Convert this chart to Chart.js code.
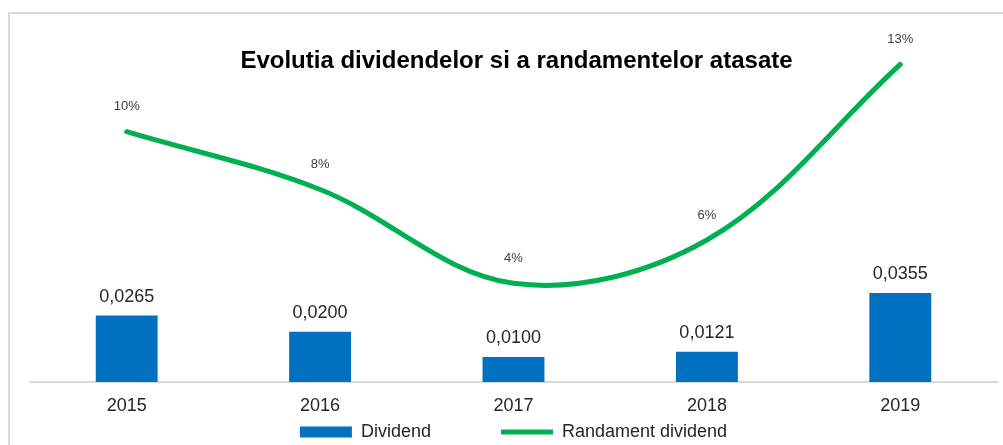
<!DOCTYPE html>
<html>
<head>
<meta charset="utf-8">
<script src="https://cdn.jsdelivr.net/npm/chart.js@4.4.1/dist/chart.umd.min.js"></script>
<style>
  html, body { margin: 0; padding: 0; background: #ffffff; }
  #wrap { width: 1003px; height: 445px; }
</style>
</head>
<body>
<div id="wrap"><canvas id="c" width="1003" height="445"></canvas></div>
<script>
const categories = ['2015', '2016', '2017', '2018', '2019'];
const dividend = [0.0265, 0.0200, 0.0100, 0.0121, 0.0355];
const randament = [10.4, 8.0, 4.1, 5.9, 13.2];
const titleText = 'Evolutia dividendelor si a randamentelor atasate';
const seriesNames = ['Dividend', 'Randament dividend'];

const FONT = '"Liberation Sans", Arial, sans-serif';

const decorPlugin = {
  id: 'decor',
  beforeDraw(chart) {
    const ctx = chart.ctx;
    ctx.save();
    ctx.fillStyle = '#ffffff';
    ctx.fillRect(0, 0, chart.width, chart.height);
    ctx.fillStyle = '#d9d9d9';
    ctx.fillRect(8, 12, chart.width - 8, 2);
    ctx.fillRect(8, 12, 2, chart.height - 12);
    ctx.restore();
  },
  afterDatasetsDraw(chart) {
    const ctx = chart.ctx;
    const area = chart.chartArea;
    ctx.save();
    ctx.fillStyle = '#000000';
    ctx.font = 'bold 24px ' + FONT;
    ctx.textAlign = 'center';
    ctx.textBaseline = 'alphabetic';
    ctx.fillText(titleText, (area.left + area.right) / 2 + 3, 68);
    const barMeta = chart.getDatasetMeta(0);
    ctx.font = '18px ' + FONT;
    ctx.fillStyle = '#262626';
    barMeta.data.forEach((el, i) => {
      ctx.fillText(dividend[i].toFixed(4).replace('.', ','), el.x, el.y - 14);
    });
    const lineMeta = chart.getDatasetMeta(1);
    ctx.font = '13px ' + FONT;
    ctx.fillStyle = '#404040';
    ctx.textBaseline = 'middle';
    lineMeta.data.forEach((el, i) => {
      ctx.fillText(Math.round(randament[i]) + '%', el.x, el.y - 25);
    });
    ctx.restore();
  }
};

new Chart(document.getElementById('c'), {
  data: {
    labels: categories,
    datasets: [
      {
        type: 'bar',
        label: seriesNames[0],
        data: dividend,
        backgroundColor: '#0070C0',
        borderWidth: 0,
        barPercentage: 0.32,
        categoryPercentage: 1.0,
        pointStyle: 'rect',
        yAxisID: 'y'
      },
      {
        type: 'line',
        label: seriesNames[1],
        data: randament,
        borderColor: '#00B050',
        backgroundColor: '#00B050',
        borderWidth: 5,
        borderCapStyle: 'round',
        borderJoinStyle: 'round',
        pointRadius: 0,
        pointHoverRadius: 0,
        pointStyle: 'line',
        tension: 0.35,
        fill: false,
        yAxisID: 'y2'
      }
    ]
  },
  options: {
    responsive: false,
    animation: false,
    events: [],
    layout: { padding: { left: 30, right: 6, top: 21, bottom: -6 } },
    scales: {
      x: {
        grid: { display: false, drawTicks: false },
        border: { display: true, color: '#d9d9d9', width: 2 },
        ticks: {
          color: '#262626',
          font: { family: FONT, size: 18, lineHeight: 1.0 },
          padding: 15,
          maxRotation: 0
        },
        afterFit(scale) { scale.height = 31; }
      },
      y: {
        display: false,
        min: 0,
        max: 0.144
      },
      y2: {
        display: false,
        position: 'right',
        min: 0,
        max: 15
      }
    },
    plugins: {
      title: { display: false },
      tooltip: { enabled: false },
      legend: {
        position: 'bottom',
        labels: {
          usePointStyle: true,
          pointStyleWidth: 52,
          boxHeight: 11,
          padding: 10,
          color: '#262626',
          font: { family: FONT, size: 18 },
          generateLabels(chart) {
            const items = Chart.defaults.plugins.legend.labels.generateLabels(chart);
            items.forEach((it, i) => {
              if (i === 0) it.text = it.text + '\u00a0'.repeat(12);
            });
            return items;
          }
        }
      }
    }
  },
  plugins: [decorPlugin]
});
</script>
</body>
</html>
